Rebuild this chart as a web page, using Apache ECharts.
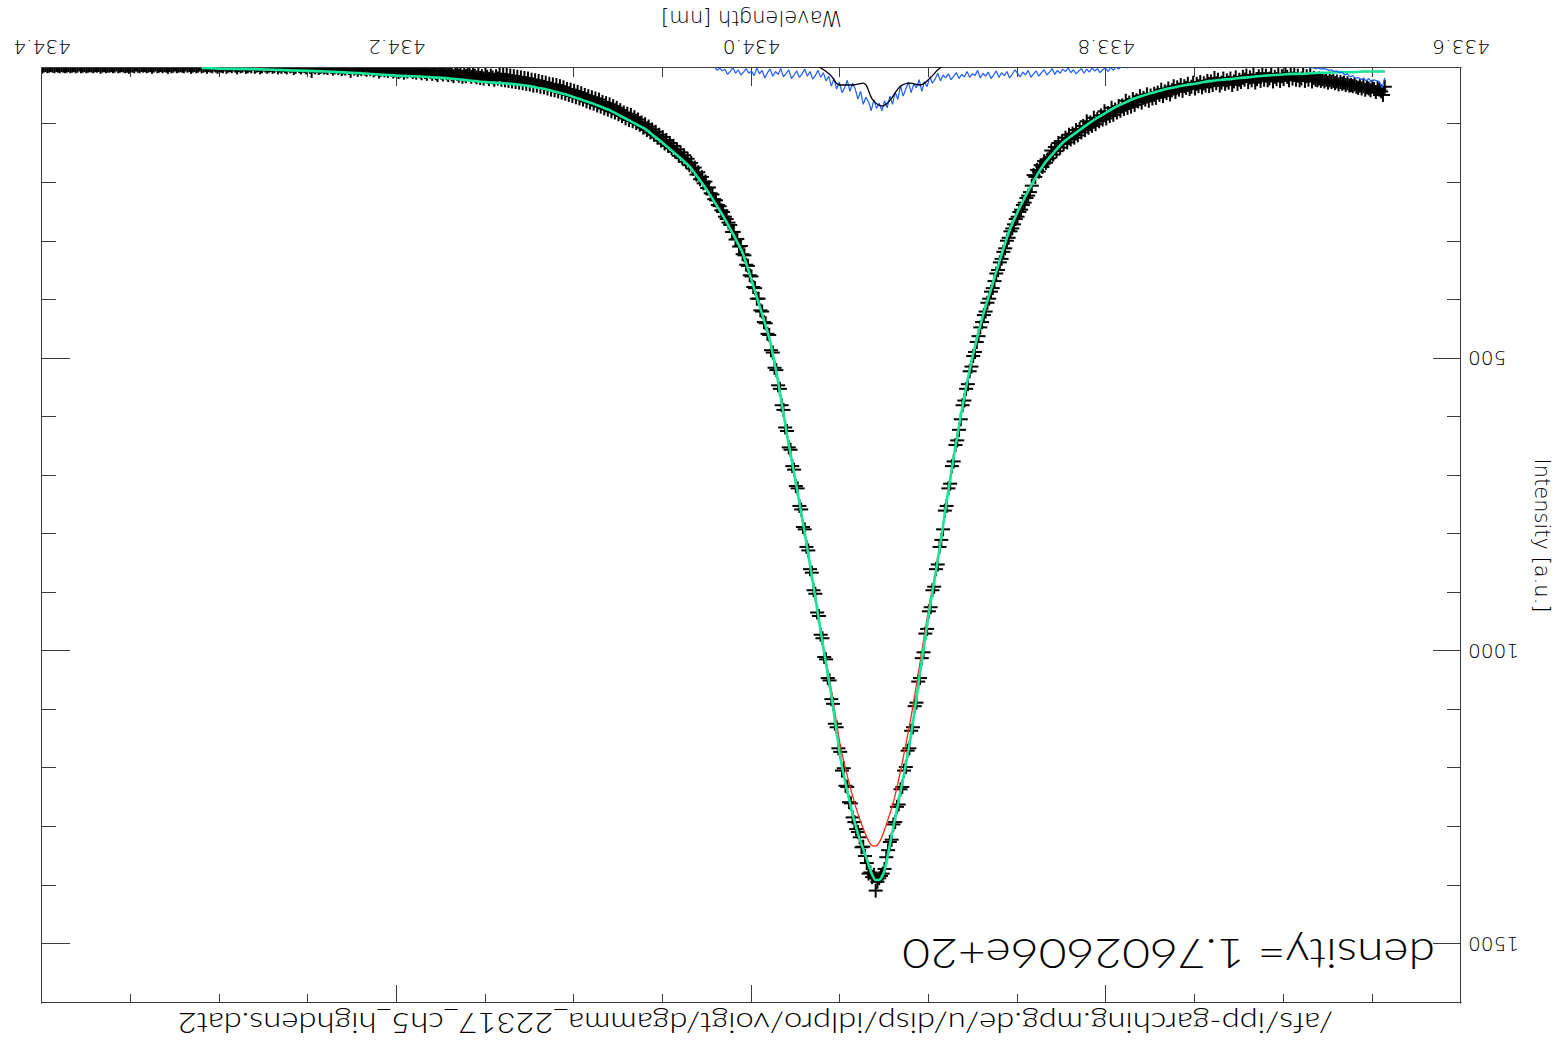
<!DOCTYPE html>
<html>
<head>
<meta charset="utf-8">
<title>H-gamma line profile</title>
<script src="https://cdn.jsdelivr.net/npm/echarts@6/dist/echarts.min.js"></script>
<style>
html, body { margin: 0; padding: 0; background: #fff; overflow: hidden; }
/* the plot is produced in IDL's landscape orientation and shown turned by 180 degrees */
#chart { width: 1562px; height: 1048px; transform: rotate(180deg); transform-origin: 50% 50%; }
</style>
</head>
<body>
<div id="chart"></div>
<script>
// measured spectrum: uniform wavelength grid (nm) and intensity (a.u.)
const waveStart = 433.643;
const waveStep = 0.001;
const intensity = [
  36, 50, 44, 41, 38, 45, 40, 36, 42, 39,
  37, 41, 35, 39, 34, 38, 36, 32, 35, 33,
  34, 30, 33, 29, 31, 28, 32, 27, 30, 26,
  28, 25, 29, 24, 27, 23, 26, 22, 25, 24,
  21, 27, 16, 24, 18, 26, 15, 22, 25, 17,
  24, 16, 22, 13, 25, 19, 14, 23, 18, 26,
  15, 23, 19, 27, 14, 22, 25, 17, 24, 13,
  26, 18, 23, 29, 16, 25, 20, 28, 17, 24,
  19, 28, 24, 31, 20, 27, 33, 22, 29, 25,
  31, 22, 29, 34, 24, 30, 21, 33, 27, 35,
  26, 34, 30, 37, 28, 35, 31, 39, 29, 36,
  40, 31, 38, 35, 43, 33, 41, 37, 45, 35,
  42, 49, 39, 47, 44, 52, 41, 50, 46, 55,
  48, 56, 51, 60, 49, 58, 55, 63, 52, 61,
  59, 67, 57, 70, 63, 72, 60, 74, 68, 77,
  69, 80, 75, 84, 72, 86, 81, 90, 78, 92,
  85, 95, 91, 100, 89, 103, 97, 106, 95, 110,
  103, 114, 108, 119, 110, 123, 116, 126, 118, 131,
  123, 134, 129, 140, 132, 146, 139, 152, 145, 158,
  160, 166, 163, 173, 170, 181, 178, 190, 187, 205,
  216, 222, 226, 234, 238, 246, 250, 258, 262, 271,
  278, 283, 294, 299, 312, 318, 330, 336, 349, 355,
  368, 380, 386, 398, 405, 420, 426, 438, 447, 462,
  472, 489, 496, 514, 522, 544, 552, 572, 580, 604,
  622, 640, 648, 676, 684, 714, 722, 752, 760, 792,
  810, 822, 852, 860, 890, 896, 925, 932, 962, 970,
  1002, 1012, 1046, 1052, 1088, 1094, 1130, 1136, 1166, 1170,
  1198, 1204, 1232, 1236, 1262, 1266, 1292, 1296, 1322, 1326,
  1340, 1352, 1372, 1380, 1384, 1388, 1394, 1409, 1382, 1386,
  1378, 1380, 1362, 1350, 1334, 1335, 1318, 1309, 1304, 1292,
  1284, 1260, 1258, 1232, 1230, 1200, 1204, 1172, 1166, 1130,
  1124, 1090, 1082, 1050, 1046, 1014, 1010, 978, 972, 940,
  934, 902, 896, 866, 860, 828, 822, 792, 788, 758,
  752, 722, 718, 690, 684, 656, 652, 624, 618, 588,
  580, 552, 546, 520, 516, 490, 486, 460, 458, 440,
  438, 420, 418, 398, 398, 380, 378, 360, 358, 342,
  340, 324, 322, 308, 309, 296, 297, 284, 284, 272,
  268, 262, 258, 250, 247, 240, 238, 230, 228, 220,
  218, 208, 209, 198, 201, 190, 194, 182, 186, 174,
  176, 166, 170, 159, 164, 153, 158, 148, 154, 143,
  147, 137, 141, 132, 137, 127, 133, 122, 128, 118,
  123, 113, 118, 109, 114, 104, 110, 100, 106, 97,
  101, 92, 98, 88, 95, 84, 93, 82, 90, 80,
  86, 76, 83, 72, 80, 69, 78, 66, 75, 64,
  73, 62, 70, 58, 68, 56, 65, 54, 63, 52,
  61, 50, 58, 47, 56, 45, 54, 43, 52, 41,
  50, 40, 48, 37, 46, 35, 44, 33, 42, 32,
  41, 31, 39, 29, 37, 28, 36, 26, 34, 25,
  34, 24, 32, 22, 31, 21, 30, 20, 29, 19,
  28, 18, 27, 17, 26, 16, 25, 15, 24, 14,
  22, 18, 24, 20, 17, 23, 19, 16, 22, 18,
  21, 15, 20, 17, 14, 19, 16, 13, 18, 15,
  19, 13, 17, 14, 12, 18, 15, 11, 16, 13,
  10, 15, 12, 9, 16, 13, 10, 14, 11, 8,
  14, 11, 9, 13, 10, 7, 12, 9, 11, 8,
  6, 10, 8, 12, 7, 9, 11, 6, 8, 10,
  7, 5, 9, 6, 8, 4, 7, 10, 5, 6,
  8, 4, 6, 3, 7, 5, 2, 6, 4, 7,
  3, 5, 2, 9, 4, 1, 5, 3, 6, 2,
  4, 1, 3, 5, 2, 0, 4, 2, 3, 1,
  2, 4, 0, 3, 1, 9, 2, -1, 3, 1,
  0, 3, 1, -2, 2, 4, 0, 1, -1, 3,
  1, -1, 2, 0, 3, -2, 1, 2, -1, 0,
  2, 0, -2, 1, 3, -1, 0, 2, -3, 1,
  -1, 1, 2, -2, 0, 1, -1, 3, 0, -2,
  1, -1, 0, 2, -2, 1, 0, -1, 2, 0,
  -2, 1, 0, -1, 2, -1, 0, 1, -2, 0,
  1, -1, 0, 2, -1, 0, -2, 1, 0, -1,
  0, 1, -2, 0, 1, -1, 2, 0, -1, 1,
  -1, 0, 1, -2, 0, 2, -1, 0, 1, -1,
  0, -1, 1, 0, -2, 1, 0, -1, 2, 0,
  1, 0, -1, 0, 1, -2, 0, 1, -1, 0,
  0, 1, -1, 0, 2, -1, 0, -1, 1, 0,
  -1, 0, 1, -1, 0, 1, -2, 0, 1, -1,
  0, 1, -1, 0, 1, 0, -1, 1, 0, -1,
  1, 0, -1, 0, 1, -1, 0, 2, -1, 0,
  1, -1, 0
];

// fitted line profiles, sampled on fitWave (nm)
const fitWave = [
  433.643, 433.650, 433.655, 433.660, 433.665, 433.670, 433.675, 433.680, 433.685, 433.690,
  433.695, 433.700, 433.705, 433.710, 433.715, 433.720, 433.725, 433.730, 433.735, 433.740,
  433.745, 433.750, 433.755, 433.760, 433.765, 433.770, 433.775, 433.780, 433.785, 433.790,
  433.795, 433.800, 433.805, 433.810, 433.815, 433.820, 433.825, 433.830, 433.835, 433.840,
  433.845, 433.850, 433.855, 433.860, 433.865, 433.870, 433.875, 433.880, 433.885, 433.890,
  433.895, 433.900, 433.905, 433.910, 433.915, 433.920, 433.925, 433.9275, 433.930, 433.9325,
  433.935, 433.940, 433.945, 433.950, 433.955, 433.960, 433.965, 433.970, 433.975, 433.980,
  433.985, 433.990, 433.995, 434.000, 434.005, 434.010, 434.015, 434.020, 434.025, 434.030,
  434.035, 434.040, 434.045, 434.050, 434.055, 434.060, 434.065, 434.070, 434.075, 434.080,
  434.085, 434.090, 434.095, 434.100, 434.105, 434.110, 434.115, 434.120, 434.125, 434.130,
  434.140, 434.150, 434.160, 434.170, 434.180, 434.190, 434.200, 434.220, 434.240, 434.260,
  434.280, 434.300, 434.310
];
const fitMain = [
  10, 10, 10, 11, 11, 11, 12, 12, 13, 14,
  14, 15, 16, 17, 18, 20, 21, 23, 24, 26,
  28, 31, 33, 36, 39, 43, 47, 52, 57, 64,
  71, 80, 89, 99, 110, 121, 133, 150, 168, 192,
  220, 250, 285, 332, 382, 432, 492, 565, 650, 745,
  845, 935, 1038, 1142, 1225, 1300, 1375, 1390, 1391, 1378,
  1355, 1312, 1253, 1180, 1075, 985, 890, 798, 712, 630,
  540, 465, 415, 366, 320, 290, 262, 237, 213, 192,
  172, 158, 145, 132, 120, 108, 100, 92, 84, 76,
  70, 64, 59, 54, 49, 45, 41, 38, 35, 33,
  30, 28, 25, 22, 20, 18, 17, 13, 10, 8,
  6, 5, 4
];
const fitAlt = [
  10, 10, 10, 11, 11, 11, 12, 12, 13, 14,
  14, 15, 16, 17, 18, 20, 21, 23, 24, 26,
  28, 31, 33, 36, 39, 43, 47, 52, 57, 64,
  71, 80, 89, 99, 110, 121, 133, 150, 168, 192,
  220, 250, 285, 332, 382, 432, 492, 565, 650, 745,
  842, 925, 1020, 1112, 1190, 1258, 1305, 1324, 1333, 1331,
  1318, 1278, 1225, 1160, 1066, 982, 890, 798, 712, 630,
  540, 465, 415, 366, 320, 290, 262, 237, 213, 192,
  172, 158, 145, 132, 120, 108, 100, 92, 84, 76,
  70, 64, 59, 54, 49, 45, 41, 38, 35, 33,
  30, 28, 25, 22, 20, 18, 17, 13, 10, 8,
  6, 5, 4
];

// residual of the alternative fit on its own grid (nm)
const residStart = 433.643;
const residStep = 0.0015;
const residual = [
  21, 38, 27, 26, 24, 28, 22, 26, 21, 24,
  20, 22, 17, 19, 14, 16, 11, 12, 9, 10,
  7, 8, 6, 5, 6, 4, 5, 3, 4, 2,
  1, 3, -2, 0, -4, 1, -3, -1, -5, 0,
  -3, -6, -1, -4, -7, -2, -5, 0, -4, -6,
  -2, -5, 1, -3, -6, 0, -4, -1, -5, -2,
  -4, 0, -3, -6, -1, -4, 1, -2, -5, -1,
  -3, 0, -4, -1, -5, 1, -2, -4, 0, -3,
  -1, -4, 2, -2, -5, 0, -3, 1, -2, -4,
  0, -3, 2, -1, 3, -2, 1, 4, -1, 2,
  6, 2, 8, 3, 10, 4, 7, 12, 5, 9,
  4, 11, 6, 13, 5, 9, 14, 7, 12, 4,
  10, 6, 13, 8, 15, 5, 11, 16, 7, 12,
  18, 9, 14, 20, 8, 16, 11, 19, 13, 7,
  15, 21, 10, 17, 12, 20, 9, 16, 22, 11,
  18, 13, 21, 8, 17, 14, 20, 10, 19, 15,
  22, 12, 18, 24, 14, 21, 16, 26, 13, 23,
  30, 19, 36, 27, 44, 24, 38, 31, 46, 28,
  40, 52, 34, 58, 45, 66, 52, 72, 60, 77,
  64, 73, 58, 77, 62, 54, 66, 44, 57, 40,
  30, 44, 25, 38, 46, 28, 40, 22, 35, 18,
  26, 12, 20, 8, 17, 23, 10, 18, 6, 14,
  20, 9, 16, 22, 7, 13, 19, 5, 15, 10,
  18, 6, 12, 21, 8, 14, 4, 17, 9, 13,
  5, 11, 16, 7, 13, 3, 10, 15, 6, 9,
  4, 8, 0, -5
];

// smoothed residual
const smoothWave = [433.885, 433.8937, 433.8993, 433.9050, 433.9107, 433.9163, 433.9219, 433.9264,
  433.9315, 433.9371, 433.9428, 433.9501, 433.9558, 433.9631, 433.970];
const smoothResid = [-8, 4, 21, 33, 30, 36, 59, 69, 59, 30, 33, 33, 15, 0, -8];

// axis ranges and tick positions
const waveMin = 433.6, waveMax = 434.4;
const intMin = 4, intMax = 1601;
const xMajorTicks = [433.6, 433.8, 434.0, 434.2, 434.4];
const xMinorTicks = [433.65, 433.7, 433.75, 433.85, 433.9, 433.95, 434.05, 434.1, 434.15, 434.25, 434.3, 434.35];
const yMajorTicks = [500, 1000, 1500];
const yMinorTicks = [100, 200, 300, 400, 600, 700, 800, 900, 1100, 1200, 1300, 1400, 1600];

const densityLabel = 'density= 1.7602606e+20';
const sourceFile = '/afs/ipp-garching.mpg.de/u/disp/idlpro/voigt/dgamma_22317_ch5_highdens.dat2';

// ---------------------------------------------------------------------------
const AXIS_FAMILY = '"DejaVu Sans", sans-serif';
const TEXT_FAMILY = 'Lato, "DejaVu Sans", sans-serif';
const WEIGHT = 300;
const INK = '#000';
const FRAME = '#3c3c3c';

const measured = intensity.map((v, i) => [+(waveStart + i * waveStep).toFixed(4), v]);
const mainCurve = fitWave.map((w, i) => [w, fitMain[i]]);
const altCurve = fitWave.map((w, i) => [w, fitAlt[i]]);
const residCurve = residual.map((v, i) => [+(residStart + i * residStep).toFixed(4), v]);
const smoothCurve = smoothWave.map((w, i) => [w, smoothResid[i]]);

// stretch a free text to a given width, as the vector font of the original plot is wide
function widthScale(text, font, target) {
  const ctx = document.createElement('canvas').getContext('2d');
  ctx.font = font;
  return target / ctx.measureText(text).width;
}

const nameStyle = { color: INK, fontFamily: AXIS_FAMILY, fontWeight: WEIGHT, fontSize: 21 };
const tickLabelStyle = { color: INK, fontFamily: AXIS_FAMILY, fontWeight: WEIGHT, fontSize: 20 };

function xAxisDef(position, ticks, len, withLabels) {
  return {
    type: 'value', position, min: waveMin, max: waveMax,
    axisLine: { show: true, onZero: false, lineStyle: { color: FRAME, width: 1 } },
    axisTick: { show: true, inside: true, length: len, customValues: ticks, lineStyle: { color: FRAME, width: 1 } },
    axisLabel: withLabels ? Object.assign({
      show: true, customValues: ticks, margin: 11,
      formatter: v => v.toFixed(1)
    }, tickLabelStyle) : { show: false },
    splitLine: { show: false },
    name: withLabels ? 'Wavelength [nm]' : '',
    nameLocation: 'middle', nameGap: 40,
    nameTextStyle: nameStyle
  };
}

function yAxisDef(position, ticks, len, withLabels) {
  return {
    type: 'value', position, min: intMin, max: intMax,
    axisLine: { show: true, onZero: false, lineStyle: { color: FRAME, width: 1 } },
    axisTick: { show: true, inside: true, length: len, customValues: ticks, lineStyle: { color: FRAME, width: 1 } },
    axisLabel: withLabels ? Object.assign({
      show: true, customValues: ticks, margin: 7,
      formatter: v => String(Math.round(v))
    }, tickLabelStyle) : { show: false },
    splitLine: { show: false },
    name: withLabels ? 'Intensity [a.u.]' : '',
    nameLocation: 'middle', nameGap: 70,
    nameTextStyle: nameStyle
  };
}

const densityFont = `${WEIGHT} 42px ${TEXT_FAMILY}`;
const fileFont = `${WEIGHT} 28px ${TEXT_FAMILY}`;

const chart = echarts.init(document.getElementById('chart'), null, { renderer: 'svg' });

chart.setOption({
  animation: false,
  backgroundColor: '#fff',
  grid: { left: 101, right: 42, top: 45, bottom: 68, containLabel: false },
  xAxis: [
    xAxisDef('bottom', xMajorTicks, 18, true),
    xAxisDef('bottom', xMinorTicks, 9, false),
    xAxisDef('top', xMajorTicks, 18, false),
    xAxisDef('top', xMinorTicks, 9, false)
  ],
  yAxis: [
    yAxisDef('left', yMajorTicks, 28, true),
    yAxisDef('left', yMinorTicks, 14, false),
    yAxisDef('right', yMajorTicks, 28, false),
    yAxisDef('right', yMinorTicks, 14, false)
  ],
  graphic: [
    {
      type: 'text', x: 127, y: 93, scaleX: widthScale(densityLabel, densityFont, 533), silent: true,
      style: { text: densityLabel, font: densityFont, fill: INK, align: 'left', verticalAlign: 'middle' }
    },
    {
      type: 'text', x: 229, y: 24, scaleX: widthScale(sourceFile, fileFont, 1155), silent: true,
      style: { text: sourceFile, font: fileFont, fill: INK, align: 'left', verticalAlign: 'middle' }
    }
  ],
  series: [
    {
      name: 'measured', type: 'custom', xAxisIndex: 0, yAxisIndex: 0,
      data: measured, encode: { x: 0, y: 1 }, clip: true, silent: true, z: 2,
      renderItem(params, api) {
        const p = api.coord([api.value(0), api.value(1)]);
        const h = 7;
        const st = { stroke: '#000', lineWidth: 2 };
        return {
          type: 'group',
          children: [
            { type: 'line', shape: { x1: p[0] - h, y1: p[1], x2: p[0] + h, y2: p[1] }, style: st },
            { type: 'line', shape: { x1: p[0], y1: p[1] - h, x2: p[0], y2: p[1] + h }, style: st }
          ]
        };
      }
    },
    {
      name: 'fit (alt)', type: 'line', data: altCurve, showSymbol: false, symbol: 'none',
      smooth: 0.2, lineStyle: { color: '#ff2a10', width: 1.3 }, silent: true, z: 3
    },
    {
      name: 'fit', type: 'line', data: mainCurve, showSymbol: false, symbol: 'none',
      smooth: 0.2, lineStyle: { color: '#18e69a', width: 2.6 }, silent: true, z: 4
    },
    {
      name: 'residual', type: 'line', data: residCurve, showSymbol: false, symbol: 'none',
      lineStyle: { color: '#1d5cff', width: 1.2 }, silent: true, z: 5
    },
    {
      name: 'smoothed residual', type: 'line', data: smoothCurve, showSymbol: false, symbol: 'none',
      smooth: 0.4, lineStyle: { color: '#000', width: 1.3 }, silent: true, z: 6
    }
  ]
});
</script>
</body>
</html>
